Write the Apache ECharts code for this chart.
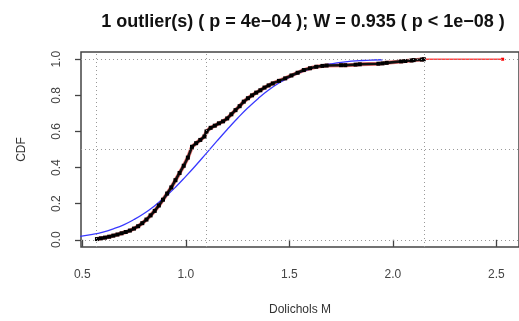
<!DOCTYPE html>
<html>
<head>
<meta charset="utf-8">
<script src="https://cdn.jsdelivr.net/npm/echarts@6/dist/echarts.min.js"></script>
<style>
  html, body { margin: 0; padding: 0; background: #fff; }
  #chart { width: 519px; height: 321px; }
</style>
</head>
<body>
<div id="chart"></div>
<script>
const ecdfX = [0.571, 0.59, 0.61, 0.63, 0.65, 0.67, 0.69, 0.71, 0.73, 0.75, 0.77, 0.79, 0.81, 0.83, 0.85,
  0.87, 0.89, 0.91, 0.93, 0.95, 0.97, 0.99, 1.01, 1.03, 1.05, 1.07, 1.09, 1.10, 1.12, 1.14, 1.16,
  1.18, 1.20, 1.22, 1.24, 1.26, 1.28, 1.30, 1.32, 1.34, 1.36, 1.38, 1.40, 1.42, 1.45, 1.48, 1.51,
  1.54, 1.57, 1.60, 1.63, 1.66, 1.68, 1.75, 1.77, 1.82, 1.84, 1.93, 1.95, 1.97, 2.04, 2.06, 2.09,
  2.10, 2.14, 2.149];
const ecdfY = [0.004, 0.008, 0.012, 0.017, 0.023, 0.029, 0.036, 0.043, 0.051, 0.062, 0.075, 0.092, 0.112, 0.135, 0.16,
  0.19, 0.222, 0.256, 0.29, 0.33, 0.37, 0.41, 0.455, 0.515, 0.535, 0.553, 0.572, 0.60, 0.62, 0.632, 0.645,
  0.656, 0.672, 0.695, 0.718, 0.74, 0.765, 0.784, 0.80, 0.815, 0.828, 0.843, 0.855, 0.866, 0.88, 0.894, 0.91,
  0.925, 0.94, 0.95, 0.958, 0.963, 0.965, 0.967, 0.967, 0.970, 0.972, 0.975, 0.977, 0.980, 0.988, 0.990, 0.993,
  0.995, 0.998, 1.0];

// the flagged outlier
const outlierX = [2.149, 2.53];
const outlierY = [1.0, 1.0];

// fitted normal CDF (blue)
const normX = [0.49, 0.55, 0.6, 0.65, 0.7, 0.75, 0.8, 0.85, 0.9, 0.95, 1.0, 1.05, 1.1, 1.15, 1.2,
  1.25, 1.3, 1.35, 1.4, 1.45, 1.5, 1.55, 1.6, 1.65, 1.7, 1.75, 1.8, 1.85, 1.9, 1.95];
const normY = [0.019, 0.030, 0.043, 0.061, 0.083, 0.112, 0.147, 0.189, 0.237, 0.291, 0.351, 0.414, 0.480, 0.546, 0.611,
  0.673, 0.731, 0.783, 0.829, 0.868, 0.900, 0.926, 0.947, 0.963, 0.974, 0.983, 0.989, 0.993, 0.9956, 0.997];

// ticks and reference lines
const xTicks = [0.5, 1.0, 1.5, 2.0, 2.5];
const yTicks = [0, 0.2, 0.4, 0.6, 0.8, 1.0];
const guideX = [0.572, 1.096, 2.15];
const guideY = [0, 0.5, 1];

const zip = (xs, ys) => xs.map((x, i) => [x, ys[i]]);

const chart = echarts.init(document.getElementById('chart'));
chart.setOption({
  animation: false,
  title: {
    text: '1 outlier(s) ( p = 4e\u221204 ); W = 0.935 ( p < 1e\u221208 )',
    left: 298,
    textAlign: 'center',
    top: 8,
    textStyle: { fontFamily: 'Liberation Sans', fontSize: 18, fontWeight: 'bold', color: '#111' }
  },
  grid: {
    left: 81, top: 52, width: 440, height: 196,
    show: true, borderColor: '#444', borderWidth: 1.5, backgroundColor: 'transparent'
  },
  xAxis: {
    type: 'value',
    min: 0.494, max: 2.609,
    name: 'Dolichols M',
    nameLocation: 'middle',
    nameGap: 57,
    nameTextStyle: { fontFamily: 'Liberation Sans', fontSize: 12, color: '#333' },
    axisLine: { show: false },
    axisTick: { show: true, length: 7, customValues: xTicks, lineStyle: { color: '#444', width: 1.3 } },
    axisLabel: {
      customValues: xTicks, margin: 22,
      fontFamily: 'Liberation Sans', fontSize: 12, color: '#444',
      formatter: v => v.toFixed(1)
    },
    splitLine: { show: false }
  },
  yAxis: {
    type: 'value',
    min: -0.04, max: 1.04,
    name: 'CDF',
    nameLocation: 'middle',
    nameGap: 53,
    nameTextStyle: { fontFamily: 'Liberation Sans', fontSize: 12, color: '#333' },
    axisLine: { show: false },
    axisTick: { show: true, length: 6, customValues: yTicks, lineStyle: { color: '#444', width: 1.3 } },
    axisLabel: {
      customValues: yTicks, margin: 18, rotate: 90,
      fontFamily: 'Liberation Sans', fontSize: 12, color: '#444',
      formatter: v => v.toFixed(1)
    },
    splitLine: { show: false }
  },
  series: [
    {
      type: 'line',
      data: [],
      silent: true,
      markLine: {
        silent: true,
        symbol: 'none',
        label: { show: false },
        lineStyle: { type: [1, 3], color: '#999', width: 1 },
        data: guideX.map(v => ({ xAxis: v })).concat(guideY.map(v => ({ yAxis: v })))
      }
    },
    {
      name: 'outlier',
      type: 'line',
      data: zip(outlierX, outlierY),
      showSymbol: true,
      symbol: 'rect',
      symbolSize: 3,
      lineStyle: { color: '#f44', width: 1.5 },
      itemStyle: { color: '#f00' }
    },
    {
      name: 'ecdf-under',
      type: 'line',
      data: zip(ecdfX, ecdfY),
      showSymbol: false,
      lineStyle: { color: '#e77', width: 4 }
    },
    {
      name: 'normal',
      type: 'line',
      data: zip(normX, normY),
      showSymbol: false,
      smooth: true,
      lineStyle: { color: '#3a3aff', width: 1.3 }
    },
    {
      name: 'ecdf',
      type: 'line',
      data: zip(ecdfX, ecdfY),
      symbol: 'rect',
      symbolSize: 4,
      showAllSymbol: true,
      lineStyle: { color: '#111', width: 2.6 },
      itemStyle: { color: '#000' }
    }
  ]
});
</script>
</body>
</html>
